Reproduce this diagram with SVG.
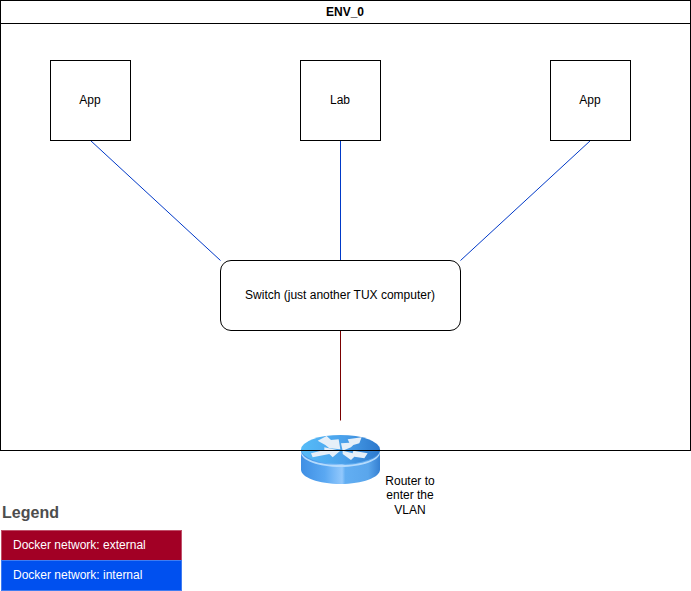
<svg xmlns="http://www.w3.org/2000/svg" width="691" height="591" viewBox="0 0 691 591">
<defs>
<linearGradient id="routerSide" x1="0" y1="0" x2="1" y2="0">
<stop offset="0" stop-color="#3f8fe4"/><stop offset="0.3" stop-color="#5aa8f2"/><stop offset="0.52" stop-color="#92c8fc"/><stop offset="0.56" stop-color="#62aef2"/><stop offset="0.85" stop-color="#5aa6ec"/><stop offset="1" stop-color="#3580d2"/>
</linearGradient>
<linearGradient id="routerTop" x1="0" y1="0" x2="1" y2="0">
<stop offset="0" stop-color="#56bcf8"/><stop offset="0.55" stop-color="#4aa0ea"/><stop offset="1" stop-color="#2c78cc"/>
</linearGradient>
</defs>
<style>
text{font-family:"Liberation Sans",Arial,sans-serif;font-size:12px;text-anchor:middle;fill:#000}
.box{fill:#fff;stroke:#000;stroke-width:1}
.conn{fill:none;stroke-width:1}
.int{stroke:#0039c8}
.ext{stroke:#7a0000}
.arrow{fill:#e6eff8}
</style>
<g id="env">
<rect class="box" x="0.5" y="0.5" width="690" height="450" style="fill:none"/>
<line x1="0.5" y1="23.5" x2="690.5" y2="23.5" stroke="#000"/>
<text x="345" y="16" style="font-weight:bold">ENV_0</text>
</g>
<g id="connectors">
<line class="conn int" x1="90.5" y1="140.5" x2="220.5" y2="260.5"/>
<line class="conn int" x1="340.5" y1="140.5" x2="340.5" y2="260.5"/>
<line class="conn int" x1="590.5" y1="140.5" x2="460.5" y2="260.5"/>
<line class="conn ext" x1="340.5" y1="330.5" x2="340.5" y2="420.5"/>
</g>
<g id="app1"><rect class="box" x="50.5" y="60.5" width="80" height="80"/><text x="90" y="104">App</text></g>
<g id="lab"><rect class="box" x="300.5" y="60.5" width="80" height="80"/><text x="340" y="104">Lab</text></g>
<g id="app2"><rect class="box" x="550.5" y="60.5" width="80" height="80"/><text x="590" y="104">App</text></g>
<g id="switch"><rect class="box" x="220.5" y="260.5" width="240" height="70" rx="10.5" ry="10.5"/><text x="340" y="299">Switch (just another TUX computer)</text></g>
<g id="router">
<path d="M301 449v20.500c0 8 17.700 14.500 39.500 14.500s39.500-6.500 39.500-14.500v-20.500z" fill="url(#routerSide)"/>
<path d="M301 450c0 9 17.700 15 39.500 15s39.500-6 39.500-15v2.500c0 8-17.700 14.500-39.500 14.500s-39.500-6.500-39.500-14.500z" fill="#b4dafc"/>
<ellipse cx="340.500" cy="449.500" rx="39.500" ry="14.500" fill="url(#routerTop)"/>
<g transform="translate(296 430) scale(.3333)">
<path class="arrow" d="M65 32L92 18L105 30L128 28L133 58L100 55L88 45z"/>
<path class="arrow" d="M135 40L160 38L155 28L197 22L190 40L172 45L165 52L140 62z"/>
<path class="arrow" d="M45 70L85 60L85 52L133 62L110 82L100 72L50 82z"/>
<path class="arrow" d="M140 62L170 70L172 62L215 70L205 85L175 80L165 90L140 72z"/>
</g>
<line x1="280" y1="450.500" x2="400" y2="450.500" stroke="#000"/>
<text x="410" y="485">Router to</text><text x="410" y="499">enter the</text><text x="410" y="514">VLAN</text>
</g>
<g id="legend">
<text x="30.500" y="518" style="font-size:16px;font-weight:bold;fill:#4d4d4d">Legend</text>
<rect x="1.500" y="530.500" width="180" height="30" fill="#a20025" stroke="#c0506a"/>
<rect x="1.500" y="560.500" width="180" height="30" fill="#0050ef" stroke="#3f7cf2"/>
<text x="13" y="549" style="text-anchor:start;fill:#fff">Docker network: external</text>
<text x="13" y="579" style="text-anchor:start;fill:#fff">Docker network: internal</text>
</g>
</svg>
